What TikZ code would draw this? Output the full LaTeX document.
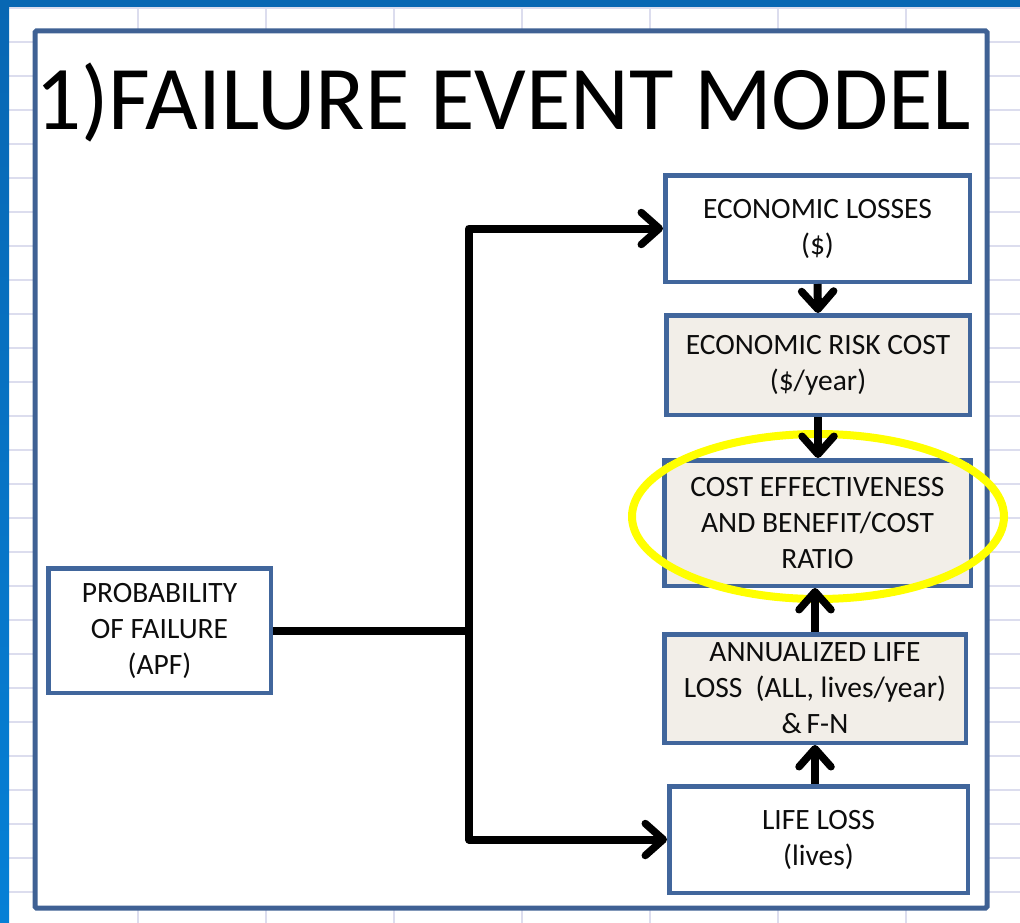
\documentclass[tikz,border=0pt]{standalone}
\usepackage{fontspec}
\setmainfont{Carlito}
\usetikzlibrary{arrows.meta}
\definecolor{winblue}{HTML}{0867B3}
\definecolor{winblueb}{HTML}{0680D6}
\definecolor{gridc}{HTML}{DCDDEE}
\definecolor{framec}{HTML}{3F6194}
\definecolor{boxc}{HTML}{41669C}
\definecolor{beige}{HTML}{F2EEE8}
\definecolor{hilite}{HTML}{FFFF00}
\tikzset{
  gridline/.style={draw=gridc, line width=1.2pt},
  frame/.style={draw=framec, fill=white, line width=5pt, rounded corners=1.5pt},
  box/.style={draw=boxc, fill=white, line width=4.5pt, align=center, inner sep=0pt,
    font=\fontsize{29.5}{36}\selectfont, text=black!95},
  shaded/.style={box, fill=beige},
  conn/.style={draw=black, line width=8pt, line join=round,
    -{Straight Barb[length=18pt,width=32pt,line width=7.5pt,round]}},
  plain/.style={draw=black, line width=8pt, line join=round},
  ring/.style={draw=hilite, line width=8pt},
  title/.style={font=\fontsize{91}{100}\selectfont, text=black, inner sep=0pt, anchor=base}
}
\begin{document}
\begin{tikzpicture}[x=1pt,y=-1pt]
\useasboundingbox (0,0) rectangle (1020,923);
\fill[white] (0,0) rectangle (1020,923);
% spreadsheet grid
\foreach \gx in {138,266,394,522,650,778,906} \draw[gridline] (\gx,0) -- (\gx,923);
\foreach \gy in {8,42,...,923} \draw[gridline] (0,\gy) -- (1020,\gy);
% window chrome
\fill[winblue] (0,0) rectangle (1020,7);
\shade[top color=winblue, bottom color=winblueb] (0,0) rectangle (9,923);
% outer frame
\draw[frame] (35,31) rectangle (987,908);
\node[title] (ttl) at (503,130) {1)FAILURE EVENT MODEL};
% boxes
\node[box, minimum width=304.5pt, minimum height=106.5pt] (econ) at (817.5,228.5) {ECONOMIC LOSSES\\(\$)};
\node[shaded, minimum width=303.5pt, minimum height=99.5pt] (risk) at (818,365) {ECONOMIC RISK COST\\(\$/year)};
\node[shaded, minimum width=306.5pt, minimum height=125.5pt] (cost) at (817.5,523) {COST EFFECTIVENESS\\AND BENEFIT/COST\\RATIO};
\node[shaded, minimum width=301.5pt, minimum height=108.5pt] (annual) at (815,688.5) {ANNUALIZED LIFE\\LOSS\ \ (ALL, lives/year)\\\&\,F-N};
\node[box, minimum width=298.5pt, minimum height=106.5pt] (life) at (818.5,839.5) {LIFE LOSS\\(lives)};
\node[box, minimum width=222.5pt, minimum height=124.5pt] (prob) at (159.5,630.5) {PROBABILITY\\OF FAILURE\\(APF)};
% highlight ring
\draw[ring] (818,516.5) ellipse [x radius=186pt, y radius=82.5pt];
% connectors
\coordinate (j) at (469,630.5);
\draw[plain] (prob.east) -- (j);
\draw[conn] (j) |- (econ.west);
\draw[conn] (j) |- (life.west);
\draw[conn] (econ.south) -- (risk.north);
\draw[conn] (risk.north |- risk.south) -- (risk.north |- cost.north);
\draw[conn] (annual.north) -- (annual.north |- cost.south);
\draw[conn] (life.north -| annual.north) -- (annual.south);
\end{tikzpicture}
\end{document}
